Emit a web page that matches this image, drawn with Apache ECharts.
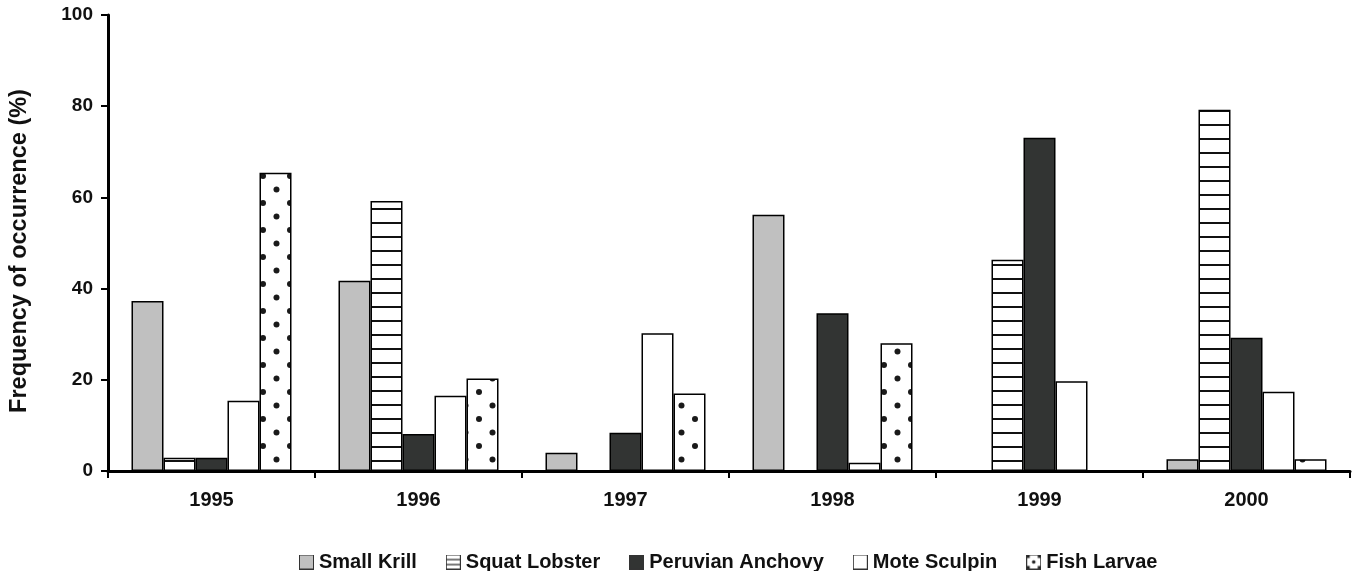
<!DOCTYPE html>
<html>
<head>
<meta charset="utf-8">
<script src="https://cdn.jsdelivr.net/npm/echarts@6/dist/echarts.min.js"></script>
<style>
  html, body { margin: 0; padding: 0; background: #fff; }
  #chart { width: 1361px; height: 571px; }
</style>
</head>
<body>
<div id="chart"></div>
<script>
var years = ['1995', '1996', '1997', '1998', '1999', '2000'];
var yTicks = [0, 20, 40, 60, 80, 100];
var seriesNames = ['Small Krill', 'Squat Lobster', 'Peruvian Anchovy', 'Mote Sculpin', 'Fish Larvae'];
var smallKrill = [37.3, 41.7, 4.0, 56.2, 0, 2.6];
var squatLobster = [2.9, 59.2, 0, 0, 46.3, 79.2];
var peruvianAnchovy = [2.9, 8.1, 8.4, 34.6, 73.1, 29.2];
var moteSculpin = [15.4, 16.5, 30.2, 1.8, 19.7, 17.4];
var fishLarvae = [65.4, 20.3, 17.0, 28.0, 0, 2.6];

// horizontal stripes for squat lobster
function linePattern(){
    var c = document.createElement('canvas');
    c.width = 8; c.height = 14;
    var ctx = c.getContext('2d');
    ctx.fillStyle = '#fff';
    ctx.fillRect(0, 0, 8, 14);
    ctx.fillStyle = '#111';
    ctx.fillRect(0, 12, 8, 2);
    return c;
}
// staggered dots for fish larvae
function dotPattern(){
    var c = document.createElement('canvas');
    c.width = 27; c.height = 27;
    var ctx = c.getContext('2d');
    ctx.fillStyle = '#fff';
    ctx.fillRect(0, 0, 27, 27);
    ctx.fillStyle = '#1a1a1a';
    var pts = [[20, 14], [6.5, 0.5]];
    for (var p = 0; p < pts.length; p++) {
        for (var dx = -27; dx <= 27; dx += 27) {
            for (var dy = -27; dy <= 27; dy += 27) {
                ctx.beginPath();
                ctx.arc(pts[p][0] + dx, pts[p][1] + dy, 3, 0, Math.PI * 2);
                ctx.fill();
            }
        }
    }
    return c;
}
// legend icons drawn like the original key boxes
function legendIcon(kind){
    var c = document.createElement('canvas');
    c.width = 15; c.height = 15;
    var ctx = c.getContext('2d');
    ctx.fillStyle = kind == 'krill' ? '#c0c0c0' : (kind == 'anchovy' ? '#323433' : '#fff');
    ctx.fillRect(0, 0, 15, 15);
    ctx.fillStyle = '#222';
    if (kind == 'lobster') {
        ctx.fillRect(0, 4.5, 15, 1.2);
        ctx.fillRect(0, 9.5, 15, 1.2);
    }
    if (kind == 'larvae') {
        ctx.beginPath(); ctx.arc(7.5, 7.5, 1.8, 0, Math.PI * 2); ctx.fill();
        ctx.fillRect(1, 1, 2.5, 2.5); ctx.fillRect(11.5, 1, 2.5, 2.5);
        ctx.fillRect(1, 11.5, 2.5, 2.5); ctx.fillRect(11.5, 11.5, 2.5, 2.5);
    }
    ctx.strokeStyle = '#333';
    ctx.lineWidth = 1;
    ctx.strokeRect(0.5, 0.5, 14, 14);
    return 'image://' + c.toDataURL();
}

var fills = [
    '#c0c0c0',
    {image: linePattern(), repeat: 'repeat'},
    '#323433',
    '#ffffff',
    {image: dotPattern(), repeat: 'repeat'}
];
var iconKinds = ['krill', 'lobster', 'anchovy', 'sculpin', 'larvae'];
var allData = [smallKrill, squatLobster, peruvianAnchovy, moteSculpin, fishLarvae];

var series = [];
var legendData = [];
for (var i = 0; i < seriesNames.length; i++) {
    series.push({
        name: seriesNames[i],
        type: 'bar',
        data: allData[i],
        barGap: '0%',
        barCategoryGap: '22.7%',
        itemStyle: {
            color: fills[i],
            borderColor: '#000',
            borderWidth: 1.5
        }
    });
    legendData.push({name: seriesNames[i], icon: legendIcon(iconKinds[i])});
}

var font = 'Liberation Sans, Arial, sans-serif';
var eChart = echarts.init(document.getElementById('chart'));
var option = {
    animation: false,
    textStyle: {fontFamily: font},
    legend: {
        top: 547,
        left: 294,
        itemWidth: 15,
        itemHeight: 15,
        itemGap: 29,
        textStyle: {fontFamily: font, fontWeight: 'bold', fontSize: 20, color: '#111'},
        data: legendData
    },
    grid: {left: 108, right: 11, top: 15, bottom: 100, containLabel: false},
    xAxis: {
        type: 'category',
        data: years,
        axisLine: {lineStyle: {color: '#000', width: 3}},
        axisTick: {show: true, length: 7, lineStyle: {color: '#000', width: 2}},
        axisLabel: {margin: 19, fontFamily: font, fontWeight: 'bold', fontSize: 20, color: '#111'}
    },
    yAxis: {
        type: 'value',
        min: 0,
        max: 100,
        interval: 20,
        name: 'Frequency of occurrence (%)',
        nameLocation: 'middle',
        nameGap: 76,
        nameTextStyle: {fontFamily: font, fontWeight: 'bold', fontSize: 23.5, color: '#111', padding: [0, 16, 0, 0]},
        axisLine: {show: true, lineStyle: {color: '#000', width: 3}},
        axisTick: {show: true, length: 7, lineStyle: {color: '#000', width: 2}},
        splitLine: {show: false},
        axisLabel: {
            margin: 15, fontFamily: font, fontWeight: 'bold', fontSize: 19, color: '#111',
            formatter: function (v) { return yTicks.indexOf(v) >= 0 ? String(v) : ''; }
        }
    },
    series: series
};
eChart.setOption(option);
</script>
</body>
</html>
